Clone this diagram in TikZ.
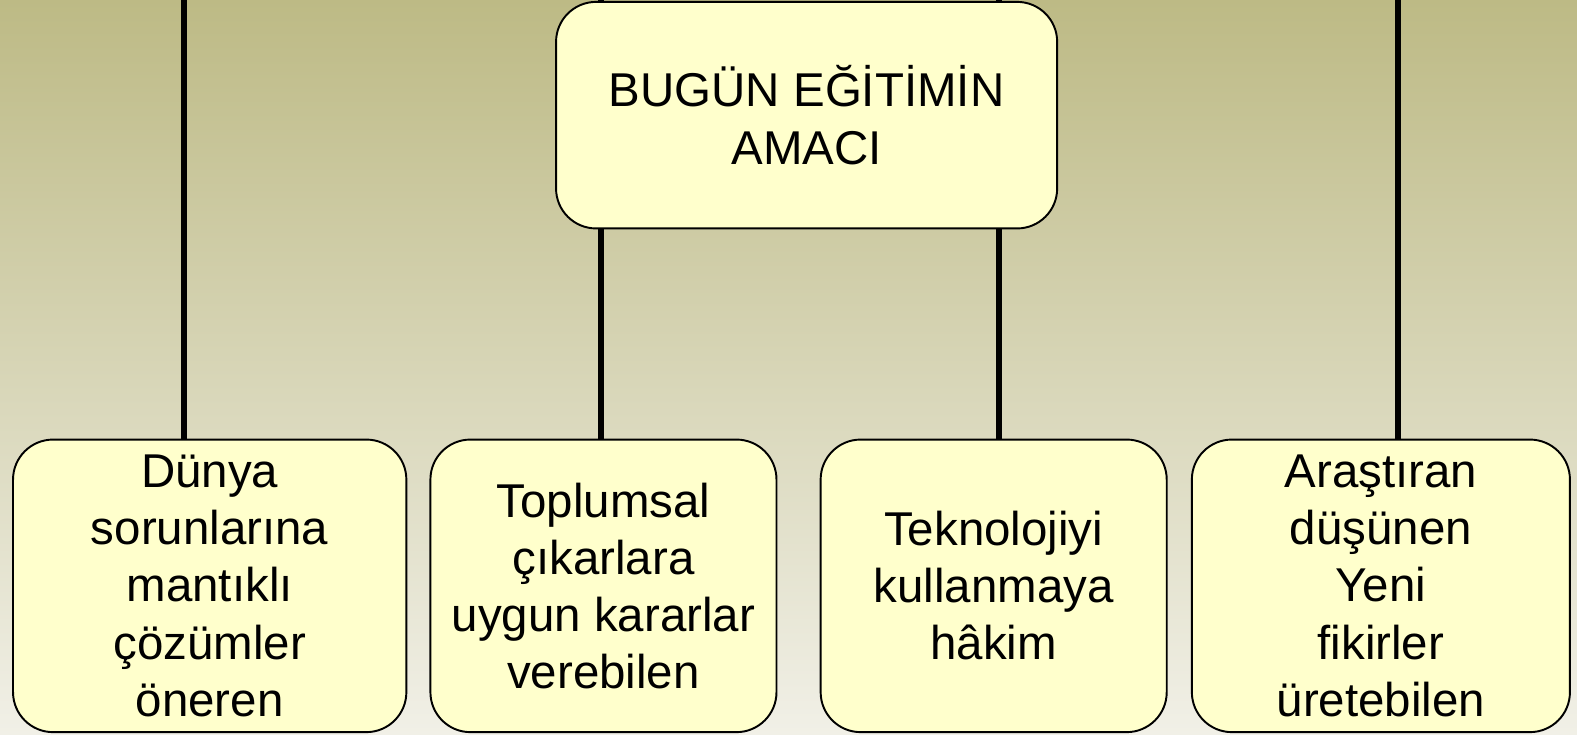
\documentclass[tikz,border=0pt]{standalone}
\usepackage{fontspec}
\setmainfont{Liberation Sans}
\usepackage{tikz}
\usetikzlibrary{positioning}
\definecolor{boxfill}{HTML}{FFFFCC}
\definecolor{bgtop}{RGB}{189,186,133}
\definecolor{bgbot}{RGB}{241,240,231}
\tikzstyle{goal} = [rectangle, rounded corners=0.8cm, draw=black, line width=1.1pt, fill=boxfill, inner sep=0pt, align=center, font=\fontsize{27}{32.5}\selectfont, minimum height=5.85cm]
\tikzstyle{aim} = [goal, minimum width=10.02cm, minimum height=4.53cm]
\tikzstyle{branch} = [line width=3.4pt, black]

\begin{document}
\begin{tikzpicture}[x=0.02011cm, y=-0.02011cm]
                \shade[top color=bgtop, bottom color=bgbot] (0,0) rectangle (1568,730);
                \useasboundingbox (0,0) rectangle (1568,730);
                \coordinate (l1) at (183,0);
                \coordinate (l2) at (598,0);
                \coordinate (l3) at (993,0);
                \coordinate (l4) at (1390,0);
                \node (dunya) [goal, minimum width=7.865cm] at (208.5,582.5) {Dünya\\sorunlarına\\mantıklı\\çözümler\\öneren};
                \node (toplum) [goal, minimum width=6.92cm] at (600,582.5) {Toplumsal\\çıkarlara\\uygun kararlar\\verebilen};
                \node (tekno) [goal, minimum width=6.92cm] at (988,582.5) {Teknolojiyi\\kullanmaya\\hâkim};
                \node (arastir) [goal, minimum width=7.56cm] at (1373,582.5) {Araştıran\\düşünen\\Yeni\\fikirler\\üretebilen};
                \draw [branch] (l1) -- (l1 |- dunya.north);
                \draw [branch] (l2) -- (l2 |- toplum.north);
                \draw [branch] (l3) -- (l3 |- tekno.north);
                \draw [branch] (l4) -- (l4 |- arastir.north);
                \node (amac) [aim] at (802,114.5) {BUGÜN EĞİTİMİN\\AMACI};
            \end{tikzpicture}
\end{document}
